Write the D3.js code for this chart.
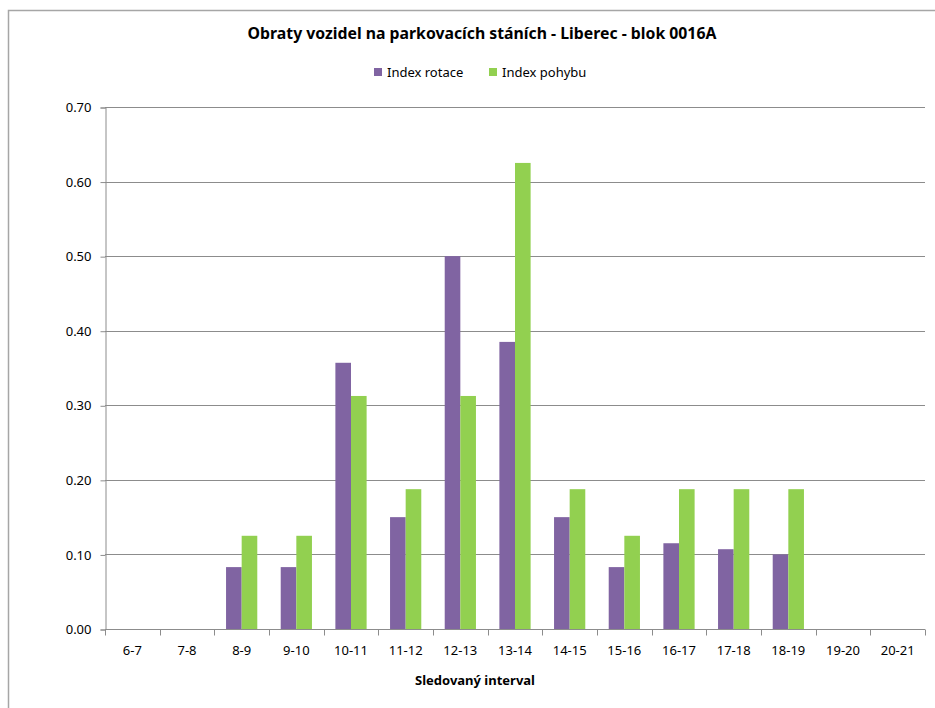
<!DOCTYPE html>
<html lang="cs">
<head>
<meta charset="utf-8"/>
<title>Obraty vozidel</title>
<script src="https://d3js.org/d3.v7.min.js"></script>
<style>
	body {margin: 0; background: #fff;}
	text {font-family: "Noto Sans", sans-serif; fill: #000;}
</style>
</head>
<body>
<script>
// data
	var intervals = ["6-7", "7-8", "8-9", "9-10", "10-11", "11-12", "12-13", "13-14", "14-15", "15-16", "16-17", "17-18", "18-19", "19-20", "20-21"];
	var indexRotace = [0, 0, 0.083, 0.083, 0.357, 0.15, 0.5, 0.385, 0.15, 0.083, 0.115, 0.107, 0.1, 0, 0];
	var indexPohybu = [0, 0, 0.125, 0.125, 0.3125, 0.1875, 0.3125, 0.625, 0.1875, 0.125, 0.1875, 0.1875, 0.1875, 0, 0];
	var seriesNames = ["Index rotace", "Index pohybu"];
	var seriesColors = ["#8064A2", "#92D050"];
	var yTicks = [0, 0.1, 0.2, 0.3, 0.4, 0.5, 0.6, 0.7];

	var w = 935;
	var h = 708;
	var plotLeft = 105, plotRight = 925, plotTop = 107, plotBottom = 629;

	var svg = d3.select("body")
				.append("svg")
				.attr("width", w)
				.attr("height", h);

// chart frame (only top and left edges visible)
	svg.append("path")
		.attr("d", "M8.5,708 V10.5 H935")
		.attr("fill", "none")
		.attr("stroke", "#a6a6a6")
		.attr("stroke-width", 1.5);

	var xScale = d3.scaleBand()
				.domain(intervals)
				.range([plotLeft, plotRight]);

	// two bars per band, gap width 150%
	var barW = xScale.bandwidth() / 3.5;
	var xInner = d3.scaleBand()
				.domain(d3.range(2))
				.range([(xScale.bandwidth() - 2 * barW) / 2, (xScale.bandwidth() + 2 * barW) / 2]);

	var yScale = d3.scaleLinear()
				.domain([0, 0.7])
				.range([plotBottom, plotTop]);

// gridlines
	svg.append("g")
		.selectAll("line")
		.data(yTicks.slice(1))
		.enter()
		.append("line")
		.attr("x1", plotLeft)
		.attr("x2", plotRight)
		.attr("y1", function(d) {return Math.round(yScale(d)) + 0.5;})
		.attr("y2", function(d) {return Math.round(yScale(d)) + 0.5;})
		.attr("stroke", "#8c8c8c")
		.attr("stroke-width", 1);

// bars
	var rows = intervals.map(function(c, i) {return [indexRotace[i], indexPohybu[i]];});
	var groups = svg.append("g")
		.selectAll("g")
		.data(rows)
		.enter()
		.append("g")
		.attr("transform", function(d, i) {return "translate(" + xScale(intervals[i]) + ",0)";});

	groups.selectAll("rect")
		.data(function(d) {return d;})
		.enter()
		.append("rect")
		.attr("x", function(d, j) {return xInner(j);})
		.attr("y", function(d) {return yScale(d);})
		.attr("width", barW)
		.attr("height", function(d) {return plotBottom - yScale(d);})
		.attr("fill", function(d, j) {return seriesColors[j];});

// y axis
	var yAxis = d3.axisLeft(yScale)
				.tickValues(yTicks)
				.tickFormat(d3.format(".2f"))
				.tickSize(5)
				.tickPadding(9);
	var gy = svg.append("g")
		.attr("transform", "translate(" + (plotLeft + 0.5) + ",0.5)")
		.call(yAxis);
	gy.select(".domain").attr("stroke", "#8c8c8c");
	gy.selectAll(".tick line").attr("stroke", "#8c8c8c");
	gy.selectAll(".tick text")
		.attr("font-size", "13px")
		.attr("font-family", "'Noto Sans', sans-serif")
		.attr("fill", "#000");

// x axis with ticks at band boundaries
	var xAxis = d3.axisBottom(xScale).tickSize(0).tickPadding(16);
	var gx = svg.append("g")
		.attr("transform", "translate(0," + (plotBottom + 0.5) + ")")
		.call(xAxis);
	gx.select(".domain").attr("stroke", "#8c8c8c").attr("d", "M" + plotLeft + ",0H" + plotRight);
	gx.selectAll(".tick text")
		.attr("font-size", "13px")
		.attr("font-family", "'Noto Sans', sans-serif")
		.attr("fill", "#000");
	gx.selectAll(".sep")
		.data(intervals.concat(["end"]))
		.enter()
		.append("line")
		.attr("x1", function(d, i) {return Math.round(plotLeft + i * xScale.step()) + 0.5;})
		.attr("x2", function(d, i) {return Math.round(plotLeft + i * xScale.step()) + 0.5;})
		.attr("y1", 0)
		.attr("y2", 6)
		.attr("stroke", "#8c8c8c");

// title
	svg.append("text")
		.attr("x", 482)
		.attr("y", 39)
		.attr("text-anchor", "middle")
		.attr("font-size", "15.8px")
		.attr("font-weight", "bold")
		.text("Obraty vozidel na parkovacích stáních - Liberec - blok 0016A");

// axis title
	svg.append("text")
		.attr("x", 475)
		.attr("y", 685)
		.attr("text-anchor", "middle")
		.attr("font-size", "13px")
		.attr("font-weight", "bold")
		.text("Sledovaný interval");

// legend
	var legendX = [374, 489];
	var legend = svg.append("g")
		.selectAll("g")
		.data(seriesNames)
		.enter()
		.append("g")
		.attr("transform", function(d, i) {return "translate(" + legendX[i] + ",68)";});
	legend.append("rect")
		.attr("width", 8)
		.attr("height", 8)
		.attr("fill", function(d, i) {return seriesColors[i];});
	legend.append("text")
		.attr("x", 13)
		.attr("y", 9)
		.attr("font-size", "13px")
		.text(function(d) {return d;});
</script>
</body>
</html>
